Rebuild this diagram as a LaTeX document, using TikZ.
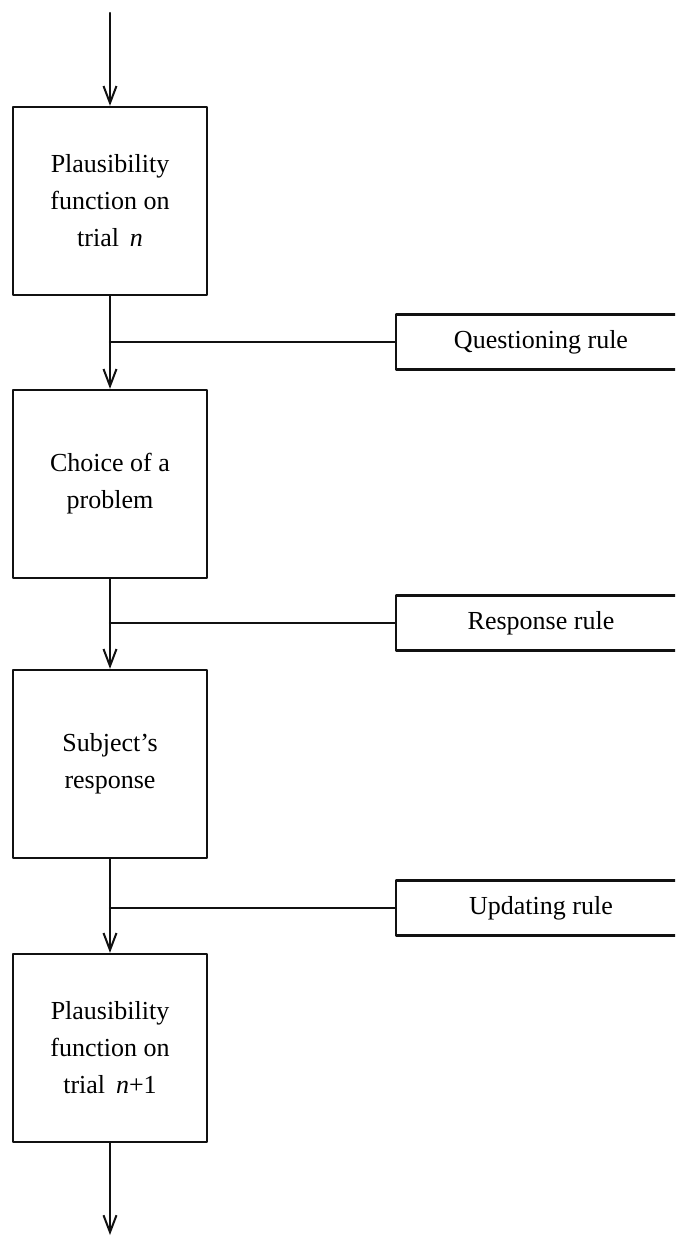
\documentclass[tikz,border=0pt]{standalone}
\usepackage{fontspec}
\setmainfont{Liberation Serif}
\usepackage{xcolor}
\usetikzlibrary{calc,arrows.meta}
\definecolor{ink}{HTML}{111111}
\tikzset{
  base/.style={draw=ink, line width=2.4pt, line cap=round, line join=round},
  flow/.style={base, -{Straight Barb[length=17pt,width=13pt,line width=2pt]}},
  stage/.style={base, rectangle, minimum width=194pt, minimum height=188pt,
    align=center, inner sep=0pt, font=\fontsize{26}{37}\selectfont},
  rulebox/.style={base, rectangle, minimum width=290pt, minimum height=55pt,
    inner sep=0pt, font=\fontsize{26}{31}\selectfont},
}

\begin{document}
\begin{tikzpicture}[x=1pt,y=-1pt]
  \clip (0,0) rectangle (675,1237);
  \def\cx{110}    % column of the stages
  \def\rx{541}    % centre of the rule boxes
  \coordinate (in) at (\cx,13);
  \coordinate (out) at (\cx,1235);

  \node[stage] (plaus) at (\cx,201) {Plausibility\\function on\\trial\ \,\textit{n}};
  \node[stage] (choice) at (\cx,484) {Choice of a\\problem};
  \node[stage] (resp) at (\cx,764) {Subject's\\response};
  \node[stage] (next) at (\cx,1048) {Plausibility\\function on\\trial\ \,\textit{n}+1};

  \node[rulebox] (quest) at (\rx,342) {Questioning rule};
  \node[rulebox] (respr) at (\rx,623) {Response rule};
  \node[rulebox] (upd) at (\rx,908) {Updating rule};

  \draw[flow] (in) -- (plaus.north);
  \draw[flow] (plaus.south) -- (choice.north);
  \draw[flow] (choice.south) -- (resp.north);
  \draw[flow] (resp.south) -- (next.north);
  \draw[flow] (next.south) -- (out);

  % rules join the column
  \draw[base] (quest.west) -- (quest.west -| plaus.south);
  \draw[base] (respr.west) -- (respr.west -| choice.south);
  \draw[base] (upd.west) -- (upd.west -| resp.south);
\end{tikzpicture}
\end{document}
